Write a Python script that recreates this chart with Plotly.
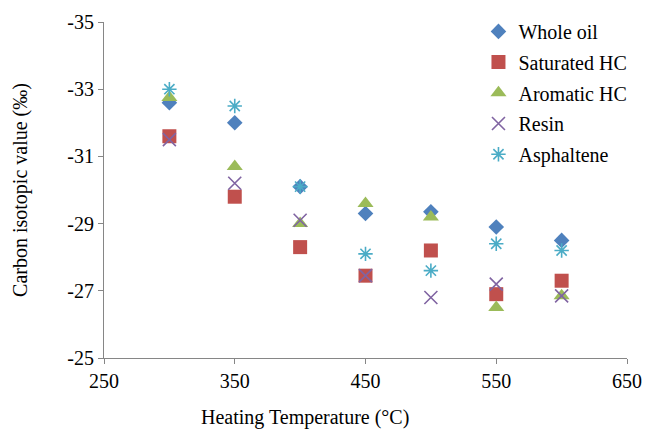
import plotly.graph_objects as go

# Heating temperatures (°C)
temperature = [300, 350, 400, 450, 500, 550, 600]

# Carbon isotopic values (‰) for each fraction
whole_oil = [-32.6, -32.0, -30.1, -29.3, -29.35, -28.9, -28.5]
saturated_hc = [-31.6, -29.8, -28.3, -27.45, -28.2, -26.9, -27.3]
aromatic_hc = [-32.75, -30.7, -29.0, -29.6, -29.2, -26.5, -26.85]
resin = [-31.5, -30.2, -29.1, -27.45, -26.8, -27.2, -26.85]
asphaltene = [-33.0, -32.5, -30.1, -28.1, -27.6, -28.4, -28.2]

# Axis ticks
x_ticks = [250, 350, 450, 550, 650]
y_ticks = [-35, -33, -31, -29, -27, -25]
y_tick_labels = ["-35", "-33", "-31", "-29", "-27", "-25"]

FONT = "Liberation Serif"
AXIS_GREY = "#868686"

series = [
    ("Whole oil", whole_oil, dict(symbol="diamond", size=12, color="#4F81BD")),
    ("Saturated HC", saturated_hc, dict(symbol="square", size=14, color="#C0504D")),
    ("Aromatic HC", aromatic_hc, dict(symbol="triangle-up", size=14, color="#9BBB59")),
    ("Resin", resin, dict(symbol="x-thin-open", size=13, color="#8064A2",
                          line=dict(width=1.6, color="#8064A2"))),
    ("Asphaltene", asphaltene, dict(symbol="asterisk-open", size=12, color="#4BACC6",
                                    line=dict(width=1.6, color="#4BACC6"))),
]

fig = go.Figure()
for i, (name, values, marker) in enumerate(series):
    fig.add_trace(go.Scatter(
        x=temperature, y=values, name=name, mode="markers",
        marker=marker, legendgroup=f"g{i}",
    ))

fig.update_layout(
    width=654, height=431,
    margin=dict(l=104, r=27, t=20, b=73),
    paper_bgcolor="white", plot_bgcolor="white",
    font=dict(family=FONT, size=20, color="black"),
    showlegend=True,
    legend=dict(
        x=0.716, y=1.03, xanchor="left", yanchor="top",
        font=dict(family=FONT, size=20, color="black"),
        bgcolor="rgba(0,0,0,0)", tracegroupgap=1.7, itemwidth=30,
    ),
    xaxis=dict(
        range=[250, 650], tickvals=x_ticks, showgrid=False, zeroline=False,
        showline=True, linecolor=AXIS_GREY, linewidth=1,
        ticks="outside", ticklen=5, tickcolor=AXIS_GREY,
        tickfont=dict(family=FONT, size=20),
    ),
    yaxis=dict(
        range=[-25, -35], tickvals=y_ticks, ticktext=y_tick_labels,
        showgrid=False, zeroline=False,
        showline=True, linecolor=AXIS_GREY, linewidth=1,
        ticks="outside", ticklen=5, tickcolor=AXIS_GREY,
        tickfont=dict(family=FONT, size=20),
        title=dict(text="Carbon isotopic value (‰)", font=dict(family=FONT, size=20),
                   standoff=34),
    ),
    annotations=[dict(
        text="Heating Temperature (°C)", xref="paper", yref="paper",
        x=0.384, y=-0.178, xanchor="center", yanchor="middle", showarrow=False,
        font=dict(family=FONT, size=20),
    )],
)

fig.write_html("out.html")
